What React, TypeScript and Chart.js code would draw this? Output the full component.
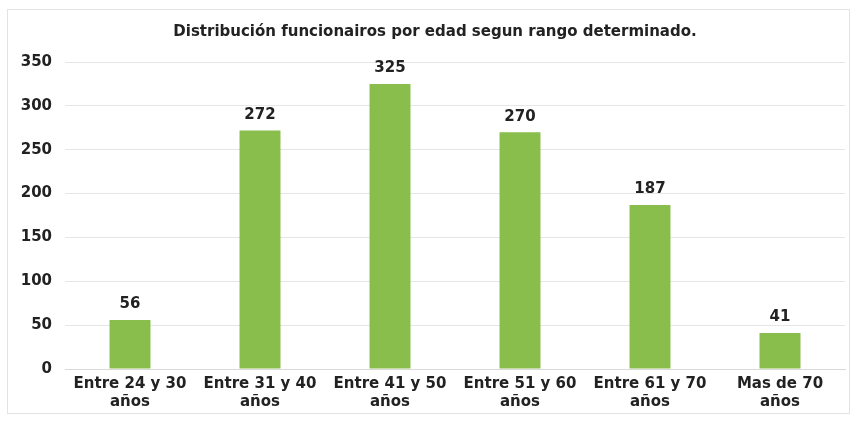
import React, { useEffect, useRef } from "react";
import { Chart, registerables } from "chart.js";

Chart.register(...registerables);

const title = "Distribución funcionairos por edad segun rango determinado.";
const categories: string[][] = [
  ["Entre 24 y 30", "años"],
  ["Entre 31 y 40", "años"],
  ["Entre 41 y 50", "años"],
  ["Entre 51 y 60", "años"],
  ["Entre 61 y 70", "años"],
  ["Mas de 70", "años"],
];
const values: number[] = [56, 272, 325, 270, 187, 41];
const yMax = 350;
const yStep = 50;

const barColor = "#89BE4D";
const textColor = "#222222";
const font = "DejaVu Sans";

const dataLabels = {
  id: "dataLabels",
  afterDatasetsDraw(chart: any) {
    const ctx = chart.ctx;
    const meta = chart.getDatasetMeta(0);
    ctx.save();
    ctx.font = `bold 15px ${font}`;
    ctx.fillStyle = textColor;
    ctx.textAlign = "center";
    ctx.textBaseline = "bottom";
    meta.data.forEach((bar: any, i: number) => {
      ctx.fillText(String(values[i]), bar.x, bar.y - 8);
    });
    ctx.restore();
  },
};

const chartTitle = {
  id: "chartTitle",
  afterDraw(chart: any) {
    const ctx = chart.ctx;
    ctx.save();
    ctx.font = `bold 15px ${font}`;
    ctx.fillStyle = textColor;
    ctx.textAlign = "center";
    ctx.textBaseline = "middle";
    ctx.fillText(title, 435, 32);
    ctx.restore();
  },
};

export default function App() {
  const ref = useRef<HTMLCanvasElement>(null);
  useEffect(() => {
    document.body.style.margin = "0";
    const chart = new Chart(ref.current!, {
      type: "bar",
      data: {
        labels: categories,
        datasets: [
          {
            data: values,
            backgroundColor: barColor,
            categoryPercentage: 1,
            barPercentage: 0.315,
          },
        ],
      },
      options: {
        animation: false,
        responsive: false,
        maintainAspectRatio: false,
        layout: { padding: { top: 62, right: 12, bottom: 4, left: 0 } },
        plugins: {
          legend: { display: false },
          tooltip: { enabled: false },
          title: { display: false },
        },
        scales: {
          x: {
            grid: { display: false, drawTicks: false },
            border: { display: true, color: "#d9d9d9" },
            ticks: {
              color: textColor,
              font: { family: font, size: 15, weight: "bold", lineHeight: 1.2 },
              padding: 6,
              maxRotation: 0,
              autoSkip: false,
            },
          },
          y: {
            min: 0,
            max: yMax,
            afterFit: (s: any) => {
              s.width = 65;
            },
            grid: { color: "#e6e6e6", drawTicks: false },
            border: { display: false },
            ticks: {
              stepSize: yStep,
              color: textColor,
              font: { family: font, size: 15, weight: "bold" },
              padding: 13,
            },
          },
        },
      },
      plugins: [dataLabels, chartTitle],
    });
    return () => chart.destroy();
  }, []);
  return (
    <div style={{ width: 857, height: 421, position: "relative", background: "#fff" }}>
      <div
        style={{
          position: "absolute",
          left: 7,
          top: 9,
          width: 843,
          height: 405,
          border: "1px solid #e3e3e3",
          boxSizing: "border-box",
        }}
      />
      <canvas ref={ref} width={857} height={421} style={{ position: "absolute", left: 0, top: 0 }} />
    </div>
  );
}
